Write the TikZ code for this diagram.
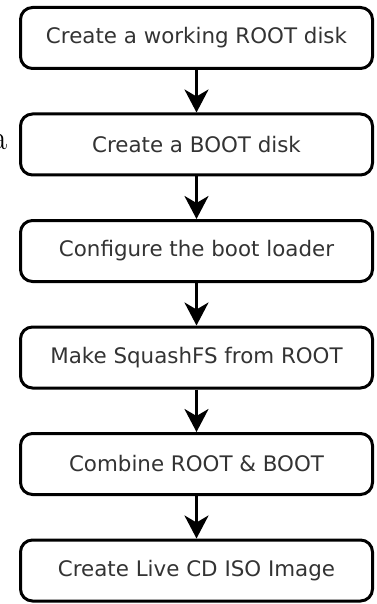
\documentclass[tikz,border=0pt]{standalone}
\usepackage{fontspec}
\newfontfamily\boxfont{DejaVu Sans}
\usetikzlibrary{arrows.meta, positioning}

\begin{document}
\begin{tikzpicture}[
stepbox/.style={rectangle, rounded corners=6pt, minimum height=30.5pt, minimum width=176pt, text centered, draw=black, line width=1.5pt, text=black!80, font=\boxfont\fontsize{10.7pt}{12pt}\selectfont},
arrow/.style={-{Stealth[length=11.5pt, width=12pt, inset=3.5pt]}, line width=1.5pt},
node distance=21.25pt
]
\useasboundingbox (0,0) rectangle (188pt,-302pt);
% Define the nodes for each step
\node[stepbox] (root) at (98.25pt,-19pt) {Create a working ROOT disk};
\node[stepbox, below=of root] (boot) {Create a BOOT disk};
\node[stepbox, below=of boot] (loader) {Configure the boot loader};
\node[stepbox, below=of loader] (squash) {Make SquashFS from ROOT};
\node[stepbox, below=of squash] (combine) {Combine ROOT \& BOOT};
\node[stepbox, below=of combine] (iso) {Create Live CD ISO Image};
% Draw arrows from one step to the next
\draw[arrow] (root) -- (boot);
\draw[arrow] (boot) -- (loader);
\draw[arrow] (loader) -- (squash);
\draw[arrow] (squash) -- (combine);
\draw[arrow] (combine) -- (iso);
% Stray letter beside the second box
\node[anchor=base east, inner sep=0pt, font=\fontsize{17.5pt}{20pt}\selectfont] (stray) at (4pt,-75pt) {a};
\end{tikzpicture}
\end{document}
